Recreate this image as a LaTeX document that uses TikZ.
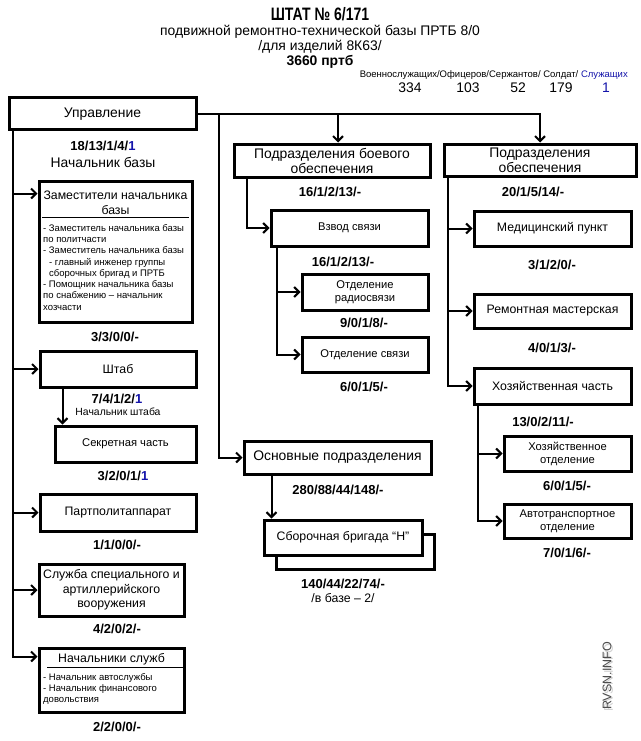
\documentclass[tikz,border=0pt]{standalone}
\usepackage{fontspec}
\setmainfont{Liberation Sans}
\usetikzlibrary{arrows.meta,shadows}

\definecolor{staffblue}{RGB}{20,20,170}
\newcommand\szbig{\fontsize{13.9}{15}\selectfont}
\newcommand\szmid{\fontsize{12.3}{14.5}\selectfont}
\newcommand\szsmall{\fontsize{11.2}{13}\selectfont}
\newcommand\sznum{\fontsize{13}{15}\selectfont\bfseries}
\newcommand\sztiny{\fontsize{9.5}{11.3}\selectfont}

\tikzset{
  box/.style={draw, line width=3pt, fill=white, align=center, inner sep=0pt},
  boxsize/.style 2 args={minimum width=#1pt, minimum height=#2pt},
  bigbox/.style={box, font=\szbig},
  midbox/.style={box, font=\szmid},
  smallbox/.style={box, font=\szsmall},
  num/.style={font=\sznum, inner sep=0pt},
  note/.style={inner sep=0pt},
  arr/.style={line width=2pt, -{Straight Barb[length=5pt,width=10pt]}},
  rule/.style={line width=1pt},
}

\begin{document}
\begin{tikzpicture}[x=1pt,y=-1pt]
\useasboundingbox[fill=white] (0,0) rectangle (640,741);

% heading
\node[note, font=\fontsize{18}{20}\selectfont\bfseries] (title) at (320,14)
  {\scalebox{0.78}[1]{ШТАТ № 6/171}};
\node[note, font=\szbig] (sub1) at (320,32) {подвижной ремонтно-технической базы ПРТБ 8/0};
\node[note, font=\szbig] (sub2) at (320,47) {/для изделий 8К63/};
\node[note, font=\szbig\bfseries] (sub3) at (320,62) {3660 пртб};
\node[note, font=\sztiny, anchor=east] (cats) at (628,75)
  {Военнослужащих/Офицеров/Сержантов/ Солдат/ \textcolor{staffblue}{Служащих}};
\node[note, font=\szbig] (t1) at (410,88) {334};
\node[note, font=\szbig] (t2) at (468,88) {103};
\node[note, font=\szbig] (t3) at (518,88) {52};
\node[note, font=\szbig] (t4) at (561,88) {179};
\node[note, font=\szbig, text=staffblue] (t5) at (606,88) {1};

% command
\node[bigbox, boxsize={187}{32}] (upr) at (102.5,114) {Управление};
\node[num] (upr-n) at (103,146) {18/13/1/4/\textcolor{staffblue}{1}};
\node[note, font=\szbig] (upr-c) at (103,162) {Начальник базы};

% left column
\node[box, boxsize={153}{141}] (zam) at (115.5,251.5) {};
\node[note, font=\szmid, align=center] (zam-t) at (115.5,203) {Заместители начальника\\базы};
\draw[rule] (42,217) -- (189,217);
\node[note, font=\sztiny, align=left, anchor=north west] (zam-l) at (43,224)
  {- Заместитель начальника базы\\
   по политчасти\\
   - Заместитель начальника базы\\
   \hspace*{6pt}- главный инженер группы\\
   \hspace*{6pt}сборочных бригад и ПРТБ\\
   - Помощник начальника базы\\
   по снабжению – начальник\\
   хозчасти};
\node[num] (zam-n) at (115,337) {3/3/0/0/-};

\node[midbox, boxsize={156}{36}] (shtab) at (118,369) {Штаб};
\node[num] (shtab-n) at (117,399) {7/4/1/2/\textcolor{staffblue}{1}};
\node[note, font=\fontsize{10.4}{12}\selectfont] (shtab-c) at (118,412) {Начальник штаба};

\node[smallbox, boxsize={141}{36}] (sekr) at (125.5,444) {Секретная часть};
\node[num] (sekr-n) at (123,476) {3/2/0/1/\textcolor{staffblue}{1}};

\node[midbox, boxsize={156}{37}] (party) at (118,512.5) {Партполитаппарат};
\node[num] (party-n) at (117,545) {1/1/0/0/-};

\node[midbox, boxsize={145}{52}] (sluzh) at (111.5,590)
  {Служба специального и\\артиллерийского\\вооружения};
\node[num] (sluzh-n) at (117,629) {4/2/0/2/-};

\node[box, boxsize={145}{64}] (nach) at (111.5,680) {};
\node[note, font=\szmid] (nach-t) at (111.5,659) {Начальники служб};
\draw[rule] (47,667) -- (183,667);
\node[note, font=\sztiny, align=left, anchor=north west] (nach-l) at (43,673)
  {- Начальник автослужбы\\
   - Начальник финансового\\
   довольствия};
\node[num] (nach-n) at (117,727) {2/2/0/0/-};

% combat support
\node[bigbox, boxsize={196}{33}] (boev) at (332,160.5) {Подразделения боевого\\обеспечения};
\node[num] (boev-n) at (330,192) {16/1/2/13/-};
\node[smallbox, boxsize={157}{36}] (vzvod) at (349.5,228) {Взвод связи};
\node[num] (vzvod-n) at (343,262) {16/1/2/13/-};
\node[smallbox, boxsize={126}{36}] (radio) at (365,292) {Отделение\\радиосвязи};
\node[num] (radio-n) at (364,323) {9/0/1/8/-};
\node[smallbox, boxsize={126}{35}] (svyaz) at (365,354.5) {Отделение связи};
\node[num] (svyaz-n) at (364,387) {6/0/1/5/-};

% main units
\node[bigbox, boxsize={187}{33}] (osn) at (337.5,457.5) {Основные подразделения};
\node[num] (osn-n) at (338,490) {280/88/44/148/-};
\node[midbox, boxsize={158}{35},
  copy shadow={shadow xshift=12pt, shadow yshift=-14pt, draw=black, fill=white, line width=3pt}]
  (sbor) at (343,537.5) {Сборочная бригада “Н”};
\node[num] (sbor-n) at (343,584) {140/44/22/74/-};
\node[note, font=\szmid] (sbor-c) at (343,598) {/в базе – 2/};

% support
\node[bigbox, boxsize={192}{32}] (obesp) at (540,160) {Подразделения\\обеспечения};
\node[num] (obesp-n) at (533,192) {20/1/5/14/-};
\node[midbox, boxsize={157}{35}] (med) at (552.5,228.5) {Медицинский пункт};
\node[num] (med-n) at (552,265) {3/1/2/0/-};
\node[midbox, boxsize={157}{34}] (rem) at (552.5,311) {Ремонтная мастерская};
\node[num] (rem-n) at (552,348) {4/0/1/3/-};
\node[midbox, boxsize={157}{36}] (hoz) at (552.5,386) {Хозяйственная часть};
\node[num] (hoz-n) at (543,422) {13/0/2/11/-};
\node[smallbox, boxsize={127}{35}] (hozotd) at (567.5,453.5) {Хозяйственное\\отделение};
\node[num] (hozotd-n) at (567,486) {6/0/1/5/-};
\node[smallbox, boxsize={127}{34}] (avto) at (567.5,521) {Автотранспортное\\отделение};
\node[num] (avto-n) at (567,553) {7/0/1/6/-};

% connectors
\coordinate (trunk) at ([xshift=5pt]upr.south west);
\draw[arr] (trunk) |- ([yshift=-14pt]zam.north west);
\draw[arr] (trunk) |- (shtab.west);
\draw[arr] (trunk) |- (party.west);
\draw[arr] (trunk) |- (sluzh.west);
\draw[arr] (trunk) |- ([yshift=-10pt]nach.north west);
\draw[arr] ([xshift=9pt]sekr.north west |- shtab.south) -- ([xshift=9pt]sekr.north west);

\draw[arr] (upr.east) -| (obesp.north);
\draw[arr] ([xshift=6pt]boev.north |- upr.east) -- ([xshift=6pt]boev.north);
\draw[arr] ([xshift=21pt]upr.east) |- (osn.west);
\draw[arr] ([xshift=9pt]sbor.north west |- osn.south) -- ([xshift=9pt]sbor.north west);

\draw[arr] ([xshift=14pt]boev.south west) |- (vzvod.west);
\foreach \t in {radio,svyaz}
  \draw[arr] ([xshift=7pt]vzvod.south west) |- (\t.west);
\foreach \t in {med,rem,hoz}
  \draw[arr] ([xshift=5pt]obesp.south west) |- (\t.west);
\foreach \t in {hozotd,avto}
  \draw[arr] ([xshift=5pt]hoz.south west) |- (\t.west);

% watermark
\node[note, rotate=90, font=\fontsize{12.5}{14}\selectfont, text=black!18] (wm-s) at (608.5,677.5) {RVSN.INFO};
\node[note, rotate=90, font=\fontsize{12.5}{14}\selectfont, text=black!70] (wm) at (607,676) {RVSN.INFO};
\end{tikzpicture}
\end{document}
